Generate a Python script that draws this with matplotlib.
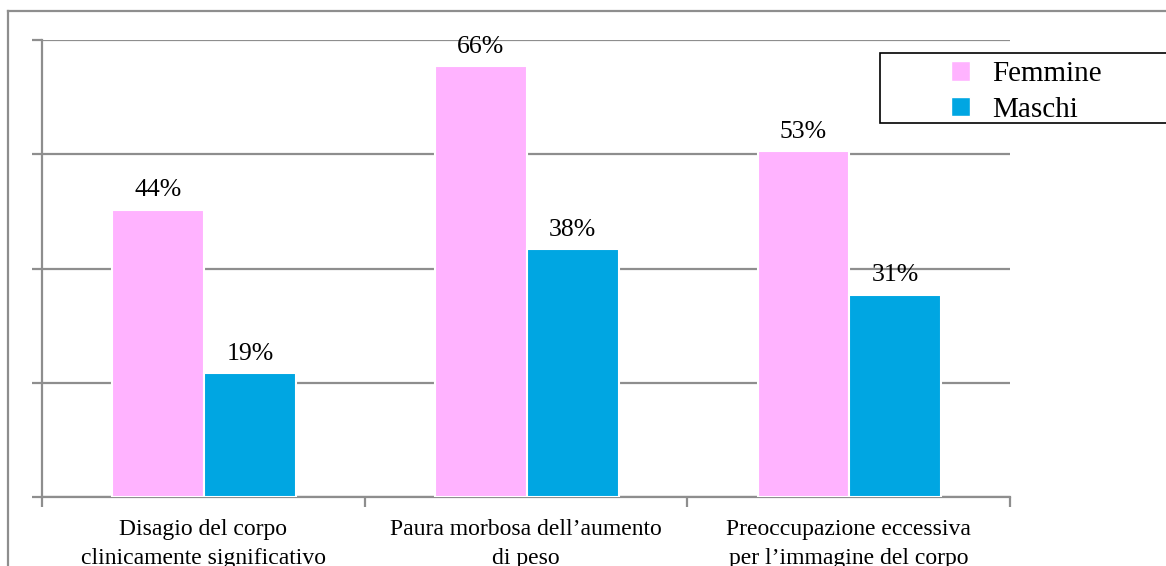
import numpy as np
import matplotlib
matplotlib.use('Agg')
import matplotlib.pyplot as plt
from matplotlib.patches import Patch, Rectangle
from matplotlib.lines import Line2D

categories = ['Disagio del corpo\nclinicamente significativo',
              'Paura morbosa dell\u2019aumento\ndi peso',
              'Preoccupazione eccessiva\nper l\u2019immagine del corpo']
femmine = [44, 66, 53]
maschi = [19, 38, 31]
series_names = ['Femmine', 'Maschi']

pink = '#FFB3FF'
blue = '#00A6E2'
gray = '#8E8E8E'

plt.rcParams['font.family'] = ['Liberation Serif', 'DejaVu Serif']

W, H = 1166, 566
fig = plt.figure(figsize=(W / 100, H / 100), dpi=100)
ax = fig.add_axes([42 / W, (H - 497) / H, 968 / W, 457 / H])

x = np.arange(len(categories))
w = 0.285
b1 = ax.bar(x - 0.14, femmine, w, color=pink, edgecolor='white', linewidth=1.5, zorder=3)
b2 = ax.bar(x + 0.145, maschi, w, color=blue, edgecolor='white', linewidth=1.5, zorder=3)

for bars, vals in [(b1, femmine), (b2, maschi)]:
    for r, v in zip(bars, vals):
        ax.annotate(f'{v}%', (r.get_x() + r.get_width() / 2, v), xytext=(0, 6),
                    textcoords='offset points', ha='center', va='bottom', fontsize=18.5, zorder=4)

ax.set_xlim(-0.5, 2.5)
ax.set_ylim(0, 70)
ax.set_yticks([0, 17.5, 35, 52.5, 70])
ax.set_yticklabels([])
ax.yaxis.grid(True, color=gray, linewidth=1.6, zorder=0)
ax.set_axisbelow(True)

ax.set_xticks([-0.5, 0.5, 1.5, 2.5])
ax.set_xticklabels([])
ax.set_xticks(x, minor=True)
ax.set_xticklabels(categories, minor=True, fontsize=17, linespacing=1.5)
ax.tick_params(axis='x', which='minor', length=0, pad=16)
ax.tick_params(axis='both', which='major', length=7, width=1.6, color=gray)

for s in ['top', 'right']:
    ax.spines[s].set_visible(False)
for s in ['left', 'bottom']:
    ax.spines[s].set_color(gray)
    ax.spines[s].set_linewidth(1.6)

# outer frame (left and top edges)
fig.add_artist(Line2D([8 / W, 8 / W], [0, 1 - 11 / H], color=gray, linewidth=1.6,
                      transform=fig.transFigure))
fig.add_artist(Line2D([8 / W, 1], [1 - 11 / H, 1 - 11 / H], color=gray, linewidth=1.6,
                      transform=fig.transFigure))

# legend box
fig.add_artist(Rectangle((880 / W, 1 - 123 / H), 300 / W, 70 / H, transform=fig.transFigure,
                         facecolor='white', edgecolor='black', linewidth=1.2, clip_on=False))
handles = [Patch(facecolor=pink, edgecolor='white'), Patch(facecolor=blue, edgecolor='white')]
fig.legend(handles, series_names, loc='upper left', bbox_to_anchor=(951 / W, 1 - 61 / H),
           frameon=False, fontsize=21, handlelength=0.66, handleheight=0.66,
           handletextpad=0.75, labelspacing=0.33, borderpad=0, borderaxespad=0)

fig.savefig('out.png', dpi=100)
